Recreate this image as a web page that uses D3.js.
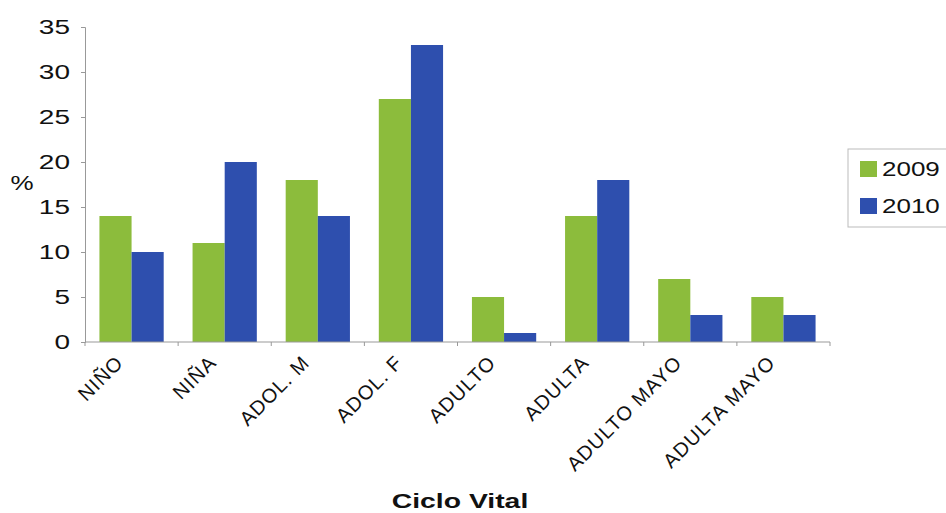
<!DOCTYPE html>
<html lang="en">
<head>
<meta charset="utf-8">
<title>Ciclo Vital</title>
<script src="https://cdn.jsdelivr.net/npm/d3@7"></script>
<style>
  body { margin: 0; background: #fff; }
  svg text { font-family: "Liberation Sans", Arial, sans-serif; fill: #111; }
</style>
</head>
<body>
<svg id="chart" width="946" height="513"></svg>
<script>
// data
var categories = ["NIÑO", "NIÑA", "ADOL. M", "ADOL. F", "ADULTO", "ADULTA", "ADULTO MAYO", "ADULTA MAYO"];
var series = ["2009", "2010"];
var values2009 = [14, 11, 18, 27, 5, 14, 7, 5];
var values2010 = [10, 20, 14, 33, 1, 18, 3, 3];
var yTicks = [0, 5, 10, 15, 20, 25, 30, 35];
var colors = ["#8cbc3c", "#2e4fae"];

var svg = d3.select("#chart");
var plotLeft = 85, plotRight = 830, plotTop = 27, plotBottom = 342;

var x = d3.scaleBand().domain(categories).range([plotLeft, plotRight]).paddingInner(0.31).paddingOuter(0.155);
var x1 = d3.scaleBand().domain(series).range([0, x.bandwidth()]);
var y = d3.scaleLinear().domain([0, 35]).range([plotBottom, plotTop]);

var rows = categories.map(function(c, i) {
  return { cat: c, vals: [values2009[i], values2010[i]] };
});

// y axis (text in the picture is stretched wide, so scale it)
var yAxis = svg.append("g")
  .attr("transform", "translate(" + plotLeft + ",0)")
  .call(d3.axisLeft(y).tickValues(yTicks).tickSize(4));
yAxis.select(".domain").attr("stroke", "#999");
yAxis.selectAll(".tick line").attr("stroke", "#999");
yAxis.selectAll("text")
  .attr("x", 0)
  .attr("transform", "translate(-15,0) scale(1.4,1)")
  .style("font-size", "20px").attr("fill", "#111");

// bars
var groups = svg.selectAll("g.grp").data(rows).enter().append("g")
  .attr("class", "grp")
  .attr("transform", function(d) { return "translate(" + x(d.cat) + ",0)"; });

groups.selectAll("rect").data(function(d) { return d.vals; }).enter().append("rect")
  .attr("x", function(d, i) { return x1(series[i]); })
  .attr("y", function(d) { return y(d); })
  .attr("width", x1.bandwidth())
  .attr("height", function(d) { return plotBottom - y(d); })
  .attr("fill", function(d, i) { return colors[i]; });

// x axis
var step = x.step();
var xAxis = svg.append("g").attr("transform", "translate(0," + plotBottom + ")");
xAxis.append("line").attr("x1", plotLeft).attr("x2", plotRight).attr("stroke", "#999");
xAxis.selectAll("line.tk").data(d3.range(categories.length + 1)).enter().append("line")
  .attr("class", "tk")
  .attr("x1", function(i) { return plotLeft + i * step; })
  .attr("x2", function(i) { return plotLeft + i * step; })
  .attr("y1", 0).attr("y2", 4).attr("stroke", "#999");

xAxis.selectAll("text").data(categories).enter().append("text")
  .attr("transform", function(d) {
    return "translate(" + (x(d) + x.bandwidth() / 2 - 12) + ",17) rotate(-45)";
  })
  .attr("text-anchor", "end")
  .attr("dy", "0.35em")
  .style("font-size", "20px")
  .style("letter-spacing", "1px")
  .text(function(d) { return d; });

// axis titles
svg.append("text").attr("transform", "translate(460,508) scale(1.35,1)").attr("text-anchor", "middle")
  .style("font-size", "21px").style("font-weight", "bold").text("Ciclo Vital");
svg.append("text").attr("transform", "translate(22,190) scale(1.3,1)").attr("text-anchor", "middle")
  .style("font-size", "20px").text("%");

// legend
var legend = svg.append("g").attr("transform", "translate(848,149)");
legend.append("rect").attr("width", 110).attr("height", 78)
  .attr("fill", "#fff").attr("stroke", "#bbb");
legend.selectAll("g").data(series).enter().append("g")
  .attr("transform", function(d, i) { return "translate(0," + (20 + i * 37) + ")"; })
  .each(function(d, i) {
    var g = d3.select(this);
    g.append("rect").attr("x", 12).attr("y", -8).attr("width", 17).attr("height", 16).attr("fill", colors[i]);
    g.append("text").attr("transform", "translate(34,0) scale(1.3,1)").attr("dy", "0.35em")
      .style("font-size", "20px").text(d);
  });
</script>
</body>
</html>
